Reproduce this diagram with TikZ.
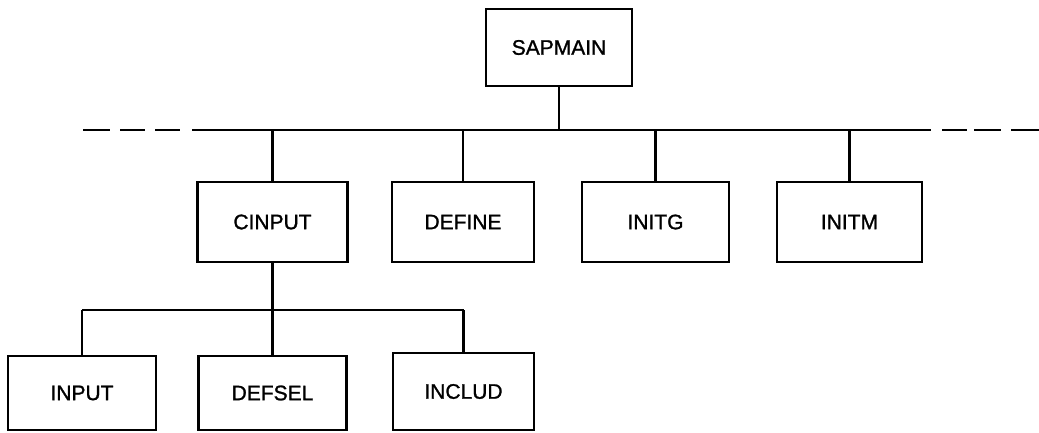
\documentclass[tikz,border=0pt]{standalone}
\usepackage{fontspec}
\newfontfamily\labfont[FakeBold=1.2]{Liberation Sans}
\begin{document}
\begin{tikzpicture}[x=1pt,y=-1pt,
  box/.style={draw, line width=2.2pt, inner sep=0pt, minimum height=80pt,
    font=\labfont\fontsize{21}{25}\selectfont},
  wire/.style={line width=2.2pt}]
\useasboundingbox (0,0) rectangle (1039,432);
% nodes
\node[box, minimum width=146pt, minimum height=77pt] (sap) at (559,47.5) {SAPMAIN};
\node[box, minimum width=150pt] (cinput) at (272.5,222) {CINPUT};
\node[box, minimum width=142pt] (define) at (463,222) {DEFINE};
\node[box, minimum width=147pt] (initg) at (655.5,222) {INITG};
\node[box, minimum width=145pt] (initm) at (849.5,222) {INITM};
\node[box, minimum width=148pt, minimum height=74pt] (input) at (82,393) {INPUT};
\node[box, minimum width=148pt, minimum height=74pt] (defsel) at (272.5,393) {DEFSEL};
\node[box, minimum width=141pt, minimum height=77pt] (includ) at (463.5,391.5) {INCLUD};
% main bus
\coordinate (busL) at (192,130);
\coordinate (busR) at (931,130);
\draw[wire] (busL) -- (busR);
\draw[wire] (83,130) -- (110,130) (120,130) -- (145,130) (155,130) -- (180,130);
\draw[wire] (942,130) -- (967,130) (974,130) -- (1001,130) (1011,130) -- (1039,130);
\draw[wire] (sap.south) -- (sap.south |- busL);
\draw[wire] (cinput.north) -- (cinput.north |- busL);
\draw[wire] (define.north) -- (define.north |- busL);
\draw[wire] (initg.north) -- (initg.north |- busL);
\draw[wire] (initm.north) -- (initm.north |- busL);
% lower bus
\coordinate (lbus) at (0,310);
\draw[wire] (input.north |- lbus) -- (includ.north |- lbus);
\draw[wire] (cinput.south) -- (defsel.north);
\draw[wire] (input.north) -- (input.north |- lbus);
\draw[wire] (includ.north) -- (includ.north |- lbus);
\end{tikzpicture}
\end{document}
